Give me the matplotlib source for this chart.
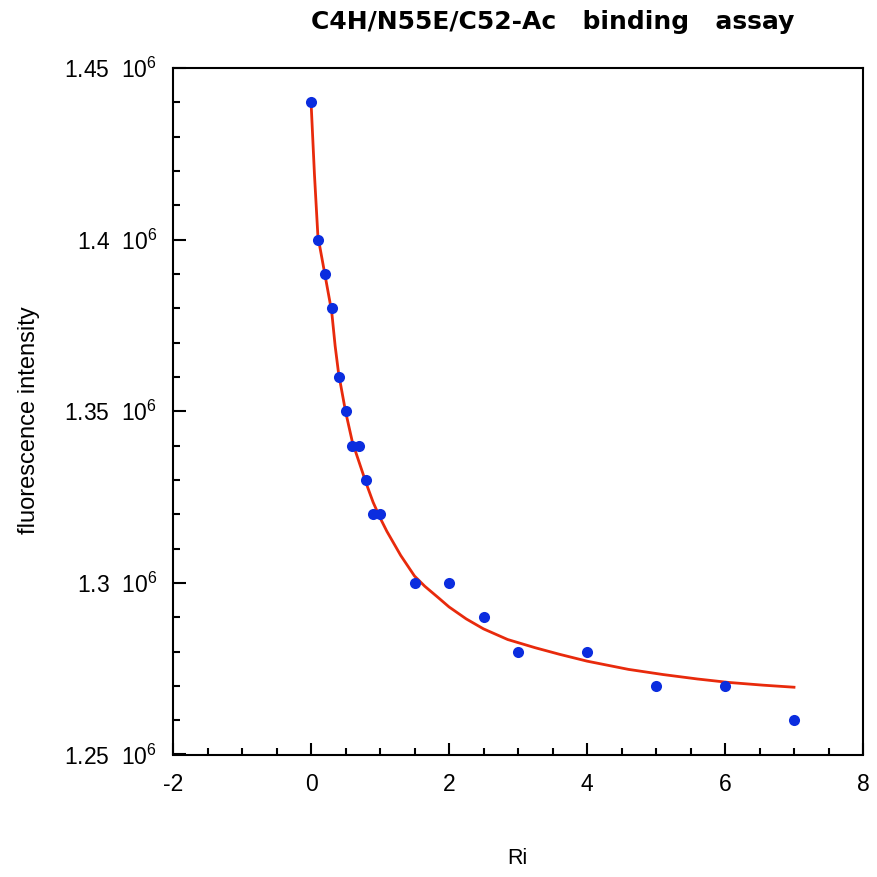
import matplotlib
matplotlib.use("Agg")
import matplotlib.pyplot as plt
from matplotlib.ticker import MultipleLocator, FixedLocator, FixedFormatter

# measured data points (Ri, fluorescence intensity in units of 1e6)
ri_points = [0.0, 0.1, 0.2, 0.3, 0.4, 0.5, 0.6, 0.7, 0.8, 0.9, 1.0,
             1.5, 2.0, 2.5, 3.0, 4.0, 5.0, 6.0, 7.0]
fl_points = [1.44, 1.40, 1.39, 1.38, 1.36, 1.35, 1.34, 1.34, 1.33, 1.32, 1.32,
             1.30, 1.30, 1.29, 1.28, 1.28, 1.27, 1.27, 1.26]

# fitted curve
ri_fit = [0.0, 0.05, 0.1, 0.2, 0.3, 0.35, 0.4, 0.5, 0.6, 0.7, 0.8, 0.9, 1.0,
          1.1, 1.2, 1.3, 1.4, 1.5, 1.65, 1.85, 2.0, 2.25, 2.5, 2.85, 3.25,
          3.6, 4.0, 4.6, 5.1, 5.6, 6.05, 6.55, 7.0]
fl_fit = [1.4404, 1.419, 1.401, 1.390, 1.379, 1.369, 1.361, 1.350, 1.341,
          1.335, 1.329, 1.3235, 1.319, 1.315, 1.3115, 1.308, 1.305, 1.302,
          1.299, 1.2956, 1.293, 1.2895, 1.2866, 1.2835, 1.2811, 1.2792, 1.2772,
          1.2748, 1.2733, 1.2720, 1.2710, 1.2702, 1.2696]

y_ticks = [1.25, 1.30, 1.35, 1.40, 1.45]
y_tick_labels = [r"1.25  $10^{6}$", r"1.3  $10^{6}$", r"1.35  $10^{6}$",
                 r"1.4  $10^{6}$", r"1.45  $10^{6}$"]
x_ticks = [-2, 0, 2, 4, 6, 8]

title = "C4H/N55E/C52-Ac   binding   assay"
x_label = "Ri"
y_label = "fluorescence intensity"

plt.rcParams['font.family'] = ['Liberation Sans', 'DejaVu Sans']
plt.rcParams['mathtext.fontset'] = 'custom'
plt.rcParams['mathtext.rm'] = 'Liberation Sans'
plt.rcParams['mathtext.it'] = 'Liberation Sans'
plt.rcParams['axes.unicode_minus'] = False

fig = plt.figure(figsize=(8.77, 8.77), dpi=100)
L, R, T, B = 173, 863, 68, 754.5
ax = fig.add_axes([L/877, 1-B/877, (R-L)/877, (B-T)/877])

ax.plot(ri_fit, fl_fit, color='#e82a0c', linewidth=2.0, zorder=2)
ax.plot(ri_points, fl_points, 'o', color='#0b2ddf', markersize=8,
        markeredgewidth=0, zorder=3)

ax.set_xlim(-2, 8)
ax.set_ylim(1.25, 1.45)
ax.xaxis.set_major_locator(FixedLocator(x_ticks))
ax.xaxis.set_minor_locator(MultipleLocator(0.5))
ax.yaxis.set_major_locator(FixedLocator(y_ticks))
ax.yaxis.set_major_formatter(FixedFormatter(y_tick_labels))
ax.yaxis.set_minor_locator(MultipleLocator(0.01))

ax.tick_params(which='both', direction='in', width=1.5, top=False, right=False,
               colors='black')
ax.tick_params(which='major', length=9)
ax.tick_params(which='minor', length=5)
ax.tick_params(axis='x', which='major', labelsize=16.5, pad=13)
ax.tick_params(axis='y', which='major', labelsize=16.5, pad=11.5)
for s in ax.spines.values():
    s.set_linewidth(1.5)

fig.text(553/877, 1-22/877, title, ha='center', va='center', fontsize=18,
         fontweight='bold', family='DejaVu Sans')
fig.text(517/877, 1-859/877, x_label, ha='center', va='center', fontsize=15.5)
fig.text(29/877, 1-420/877, y_label, ha='center', va='center', fontsize=17,
         rotation=90)

fig.savefig('out.png', dpi=100)
